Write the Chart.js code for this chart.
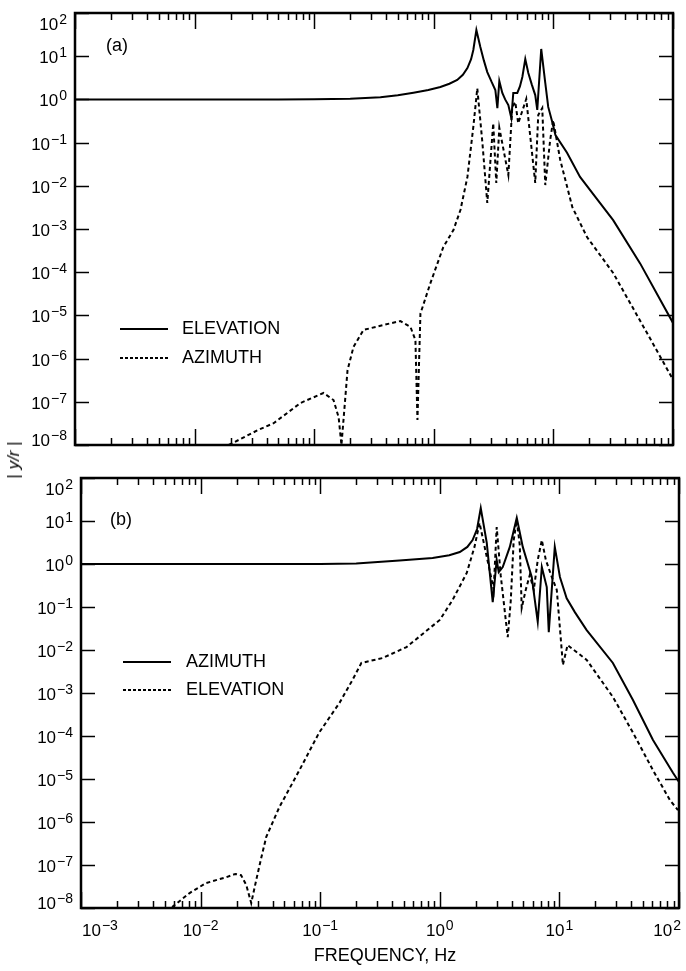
<!DOCTYPE html>
<html>
  <head>
    <title>Frequency response |y/r|</title>
    <script src="https://cdn.jsdelivr.net/npm/chart.js@^4"></script>
    <style>
      body { margin: 0; background: #fff; }
      #page { position: relative; width: 686px; height: 971px; }
      canvas { position: absolute; left: 0; }
      #graph-a { top: 0; }
      #graph-b { top: 462px; }
      #y-title {
        position: absolute;
        left: 14px;
        top: 460px;
        transform: translate(-50%, -50%) rotate(-90deg);
        font: 17px "Liberation Sans", Arial, sans-serif;
        white-space: nowrap;
        color: #000;
      }
    </style>
  </head>
  <body>
    <div id="page">
      <canvas id="graph-a" width="686" height="462"></canvas>
      <canvas id="graph-b" width="686" height="509"></canvas>
      <div id="y-title">| <i>y/r</i> |</div>
    </div>

    <script>
      // (a) elevation input
      const elevFreqA = [0.001, 0.01, 0.05, 0.1, 0.2, 0.358, 0.5, 0.676, 0.9, 1.135, 1.35, 1.57, 1.75, 1.91, 2.05, 2.14, 2.27, 2.45, 2.62, 2.80, 3.05, 3.27, 3.40, 3.53, 3.74, 3.95, 4.20, 4.45, 4.62, 4.99, 5.25, 5.50, 5.82, 6.17, 6.6, 7.05, 7.33, 7.91, 8.55, 9.05, 9.78, 10.4, 13.0, 16.7, 22.0, 31.6, 53.1, 100]
      const elevMagA = [1.0, 1.0, 1.0, 1.01, 1.04, 1.12, 1.25, 1.43, 1.65, 1.94, 2.3, 2.81, 3.7, 5.3, 8.5, 13.9, 40.4, 16.3, 8.0, 4.3, 2.5, 1.65, 0.63, 2.67, 1.41, 1.0, 0.74, 0.37, 1.41, 1.41, 2.0, 3.3, 8.6, 4.1, 2.2, 1.26, 0.57, 14.7, 2.4, 0.67, 0.3, 0.15, 0.058, 0.016, 0.0059, 0.0016, 1.6e-4, 6.7e-6]
      const aziFreqA = [0.0193, 0.0337, 0.0458, 0.0769, 0.1197, 0.145, 0.160, 0.169, 0.190, 0.213, 0.258, 0.379, 0.526, 0.638, 0.702, 0.730, 0.773, 0.937, 1.20, 1.46, 1.67, 1.91, 2.14, 2.31, 2.55, 2.80, 3.14, 3.33, 3.53, 4.20, 4.53, 4.80, 5.08, 5.93, 7.05, 7.47, 8.07, 8.55, 9.40, 9.96, 11.4, 14.4, 19.1, 31.6, 60.7, 98]
      const aziMagA = [1e-8, 2.2e-8, 3.2e-8, 9.4e-8, 1.6e-7, 1.1e-7, 4.4e-8, 1e-8, 5.4e-7, 1.86e-6, 4.6e-6, 6.0e-6, 7.4e-6, 5.4e-6, 2.7e-6, 3.8e-8, 1.1e-5, 5.6e-5, 3.8e-4, 9.5e-4, 2.75e-3, 0.016, 0.23, 1.8, 0.098, 0.004, 0.28, 0.0116, 0.22, 0.0178, 0.67, 0.87, 0.28, 1.02, 0.0116, 0.435, 0.63, 0.0104, 0.115, 0.33, 0.040, 0.0032, 6.5e-4, 9.6e-5, 3.9e-6, 3.6e-7]

      // (b) azimuth input
      const aziFreqB = [0.001, 0.01, 0.1, 0.2, 0.46, 0.87, 1.2, 1.47, 1.7, 1.88, 2.05, 2.20, 2.47, 2.77, 2.99, 3.11, 3.36, 3.85, 4.40, 4.94, 5.87, 6.59, 7.13, 7.84, 8.15, 9.15, 10.1, 11.5, 13.5, 16.9, 28.0, 41.2, 60.6, 89, 100]
      const aziMagB = [1.0, 1.0, 1.0, 1.03, 1.2, 1.38, 1.6, 1.9, 2.5, 3.6, 6.5, 20, 3.1, 0.13, 1.24, 0.65, 0.85, 2.5, 11.8, 2.5, 0.5, 0.045, 0.85, 0.29, 0.026, 2.5, 0.5, 0.16, 0.075, 0.029, 0.005, 6.9e-4, 8.1e-5, 1.4e-5, 8.5e-6]
      const elevFreqB = [0.00578, 0.00804, 0.0111, 0.0164, 0.0195, 0.0218, 0.0241, 0.0265, 0.0292, 0.0322, 0.0354, 0.0455, 0.067, 0.098, 0.145, 0.186, 0.221, 0.332, 0.527, 1.0, 1.28, 1.68, 1.95, 2.15, 2.37, 2.61, 2.82, 2.99, 3.23, 3.56, 3.70, 3.92, 4.15, 4.40, 4.66, 4.84, 5.23, 5.65, 6.11, 6.59, 7.13, 7.70, 8.63, 9.51, 10.7, 11.7, 16.9, 28.0, 41.2, 60.6, 84.1, 98]
      const elevMagB = [1.05e-8, 2.2e-8, 3.8e-8, 5.2e-8, 6.2e-8, 5.8e-8, 3.4e-8, 1.3e-8, 4.5e-8, 1.5e-7, 4.5e-7, 2.2e-6, 1.6e-5, 1.2e-4, 5.9e-4, 2.0e-3, 5.0e-3, 6.5e-3, 0.0117, 0.050, 0.146, 0.62, 2.5, 9.0, 2.5, 0.72, 0.25, 7.2, 0.55, 0.05, 0.02, 0.14, 3.6, 10.5, 2.8, 0.095, 0.25, 0.55, 0.25, 1.24, 3.6, 1.24, 0.5, 0.25, 4.5e-3, 0.013, 5.9e-3, 8.1e-4, 1.2e-4, 1.6e-5, 3.2e-6, 1.9e-6]

      const FONT = '"Liberation Sans", Arial, sans-serif'
      const SOLID = []
      const DOTTED = [4, 3]

      function points(freq, mag) {
        return freq.map((f, i) => ({ x: f, y: mag[i] }))
      }

      // "10" with a raised exponent
      function drawPower(ctx, exp, x, baseline, align) {
        const sup = exp < 0 ? "\u2212" + (-exp) : String(exp)
        ctx.font = "17px " + FONT
        const wb = ctx.measureText("10").width
        ctx.font = "14px " + FONT
        const ws = ctx.measureText(sup).width
        const total = wb + 1 + ws
        let left = x - total / 2
        if (align === "right") left = x - total
        if (align === "left") left = x
        ctx.textAlign = "left"
        ctx.textBaseline = "alphabetic"
        ctx.font = "17px " + FONT
        ctx.fillText("10", left, baseline)
        ctx.font = "14px " + FONT
        ctx.fillText(sup, left + wb + 1, baseline - 6)
      }

      function line(ctx, x1, y1, x2, y2) {
        ctx.beginPath()
        ctx.moveTo(x1, y1)
        ctx.lineTo(x2, y2)
        ctx.stroke()
      }

      // frame with inward ticks, decade labels, in-plot legend and captions
      const logFrame = {
        id: "logFrame",
        afterDatasetsDraw(chart, args, opts) {
          const { ctx, chartArea: a, scales: { x, y } } = chart
          ctx.save()
          ctx.strokeStyle = "#000"
          ctx.fillStyle = "#000"

          ctx.lineWidth = 1.5
          for (let e = -3; e <= 2; e++) {
            for (let m = 1; m <= 9; m++) {
              const v = m * Math.pow(10, e)
              if (v > 100.001) break
              const px = Math.round(x.getPixelForValue(v)) + 0.5
              const len = m === 1 ? 16 : 7
              line(ctx, px, a.top, px, a.top + len)
              line(ctx, px, a.bottom, px, a.bottom - len)
            }
          }
          for (let e = -8; e <= 2; e++) {
            const py = Math.round(y.getPixelForValue(Math.pow(10, e))) + 0.5
            line(ctx, a.left, py, a.left + 14, py)
            line(ctx, a.right, py, a.right - 14, py)
          }

          ctx.lineWidth = 2.5
          ctx.strokeRect(a.left, a.top, a.right - a.left, a.bottom - a.top)

          // y decade labels
          for (let e = -8; e <= 2; e++) {
            const py = y.getPixelForValue(Math.pow(10, e))
            let base = py + 7
            if (e === 2) base = py + 17
            if (e === -8) base = py + 1
            drawPower(ctx, e, a.left - 8, base, "right")
          }

          // x decade labels on the lower panel only
          if (opts.xLabels) {
            for (let e = -3; e <= 2; e++) {
              const px = x.getPixelForValue(Math.pow(10, e))
              let align = "center", ax = px
              if (e === -3) { align = "left"; ax = px + 1 }
              if (e === 2) { align = "right"; ax = px + 2 }
              drawPower(ctx, e, ax, a.bottom + 28, align)
            }
          }

          // legend inside the plot
          const lg = opts.legend
          chart.data.datasets.forEach((ds, i) => {
            const ly = lg.y + i * lg.gap
            ctx.lineWidth = ds.borderWidth
            ctx.setLineDash(ds.borderDash.length ? [3, 2] : [])
            line(ctx, lg.x, ly, lg.x + lg.len, ly)
            ctx.setLineDash([])
            ctx.font = "18px " + FONT
            ctx.textAlign = "left"
            ctx.textBaseline = "middle"
            ctx.fillText(ds.label, lg.textX, ly)
          })

          // panel caption
          ctx.font = "18px " + FONT
          ctx.textAlign = "left"
          ctx.textBaseline = "middle"
          ctx.fillText(opts.caption.text, opts.caption.x, opts.caption.y)

          if (opts.xTitle) {
            ctx.textAlign = "center"
            ctx.textBaseline = "alphabetic"
            ctx.fillText(opts.xTitle.text, opts.xTitle.x, opts.xTitle.y)
          }
          ctx.restore()
        }
      }

      function panel(canvasId, series, padding, frameOptions) {
        return new Chart(document.getElementById(canvasId), {
          type: "line",
          data: {
            datasets: series.map(s => ({
              label: s.label,
              data: points(s.freq, s.mag),
              borderColor: "#000",
              borderWidth: 2,
              borderDash: s.dash,
              pointRadius: 0,
              tension: 0,
              fill: false,
            }))
          },
          options: {
            responsive: false,
            animation: false,
            layout: { padding },
            plugins: {
              legend: { display: false },
              tooltip: { enabled: false },
              logFrame: frameOptions,
            },
            scales: {
              x: { type: "logarithmic", min: 1e-3, max: 1e2, display: false },
              y: { type: "logarithmic", min: 1e-8, max: 1e2, display: false },
            },
          },
          plugins: [logFrame],
        })
      }

      panel(
        "graph-a",
        [
          { label: "ELEVATION", freq: elevFreqA, mag: elevMagA, dash: SOLID },
          { label: "AZIMUTH", freq: aziFreqA, mag: aziMagA, dash: DOTTED },
        ],
        { left: 75, top: 13, right: 13, bottom: 17 },
        {
          legend: { x: 120, y: 329, gap: 29, len: 48, textX: 182 },
          caption: { text: "(a)", x: 106, y: 46 },
        }
      )

      panel(
        "graph-b",
        [
          { label: "AZIMUTH", freq: aziFreqB, mag: aziMagB, dash: SOLID },
          { label: "ELEVATION", freq: elevFreqB, mag: elevMagB, dash: DOTTED },
        ],
        { left: 81, top: 16, right: 7, bottom: 63 },
        {
          xLabels: true,
          legend: { x: 123, y: 200, gap: 28, len: 48, textX: 186 },
          caption: { text: "(b)", x: 110, y: 58 },
          xTitle: { text: "FREQUENCY, Hz", x: 385, y: 499 },
        }
      )
    </script>
  </body>
</html>
